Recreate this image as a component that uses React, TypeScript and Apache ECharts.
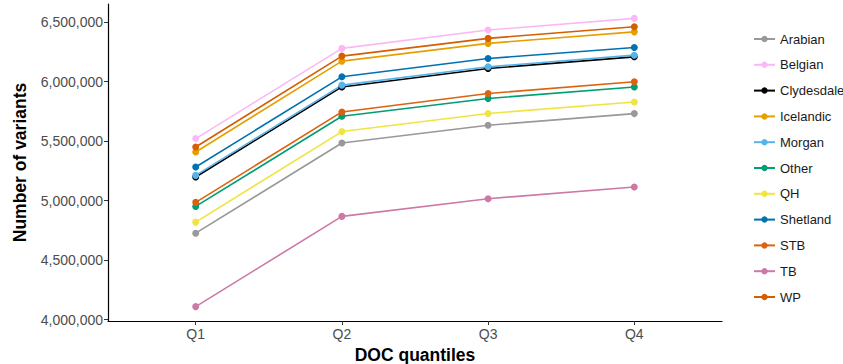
import React, { useEffect, useRef } from "react";
import * as echarts from "echarts";

const categories = ["Q1", "Q2", "Q3", "Q4"];
const breeds = ["Arabian", "Belgian", "Clydesdale", "Icelandic", "Morgan", "Other", "QH", "Shetland", "STB", "TB", "WP"];
const colors = ["#999999", "#FBB8F6", "#000000", "#E69F00", "#56B4E9", "#009E73", "#F0E442", "#0072B2", "#DD6210", "#CC79A7", "#D55E00"];

const arabian = [4726000, 5484000, 5633000, 5731000];
const belgian = [5521000, 6279000, 6433000, 6531000];
const clydesdale = [5198000, 5955000, 6110000, 6208000];
const icelandic = [5408000, 6172000, 6321000, 6418000];
const morgan = [5212000, 5970000, 6124000, 6222000];
const other = [4951000, 5709000, 5858000, 5955000];
const qh = [4819000, 5580000, 5732000, 5829000];
const shetland = [5282000, 6040000, 6194000, 6287000];
const stb = [4985000, 5745000, 5900000, 5998000];
const tb = [4109000, 4867000, 5016000, 5114000];
const wp = [5450000, 6214000, 6363000, 6461000];

const values = [arabian, belgian, clydesdale, icelandic, morgan, other, qh, shetland, stb, tb, wp];
const yTicks = [4000000, 4500000, 5000000, 5500000, 6000000, 6500000];

export default function App() {
  const ref = useRef<HTMLDivElement>(null);
  useEffect(() => {
    const chart = echarts.init(ref.current!, null, { renderer: "svg" });
    const font = "'Liberation Sans', Arial, Helvetica, sans-serif";
    chart.setOption({
      animation: false,
      textStyle: { fontFamily: font },
      grid: { left: 108, right: 121, top: 4, bottom: 43, containLabel: false, outerBoundsMode: "none" },
      xAxis: {
        type: "value",
        min: 0.4,
        max: 4.6,
        name: "DOC quantiles",
        nameLocation: "middle",
        nameGap: 22,
        nameTextStyle: { fontSize: 17.5, fontWeight: "bold", color: "#000", fontFamily: font },
        splitLine: { show: false },
        axisLine: { show: true, lineStyle: { color: "#000", width: 1.2 } },
        axisTick: { show: true, customValues: [1, 2, 3, 4], length: 4, lineStyle: { color: "#333" } },
        axisLabel: {
          customValues: [1, 2, 3, 4],
          formatter: (v: number) => categories[Math.round(v) - 1] ?? "",
          color: "#4D4D4D",
          fontSize: 14,
          margin: 6,
          fontFamily: font,
        },
      },
      yAxis: {
        type: "value",
        min: 3988000,
        max: 6652000,
        name: "Number of variants",
        nameLocation: "middle",
        nameGap: 79,
        nameTextStyle: { fontSize: 17.5, fontWeight: "bold", color: "#000", fontFamily: font },
        splitLine: { show: false },
        axisLine: { show: true, lineStyle: { color: "#000", width: 1.2 } },
        axisTick: { show: true, customValues: yTicks, length: 4, lineStyle: { color: "#333" } },
        axisLabel: {
          customValues: yTicks,
          formatter: (v: number) => v.toLocaleString("en-US"),
          color: "#4D4D4D",
          fontSize: 14,
          margin: 5,
          fontFamily: font,
        },
      },
      legend: {
        orient: "vertical",
        left: 748,
        top: 27,
        itemWidth: 21,
        itemHeight: 8,
        itemGap: 11.8,
        data: breeds,
        textStyle: { fontSize: 13, color: "#1A1A1A", lineHeight: 14, fontFamily: font },
      },
      series: breeds.map((b, i) => ({
        name: b,
        type: "line",
        data: values[i].map((v, j) => [j + 1, v]),
        symbol: "circle",
        symbolSize: 7,
        itemStyle: { color: colors[i] },
        lineStyle: { color: colors[i], width: 1.6 },
      })),
    });
    return () => chart.dispose();
  }, []);
  return <div ref={ref} style={{ width: 843, height: 364, position: "absolute", left: 0, top: 0, background: "#fff" }} />;
}
